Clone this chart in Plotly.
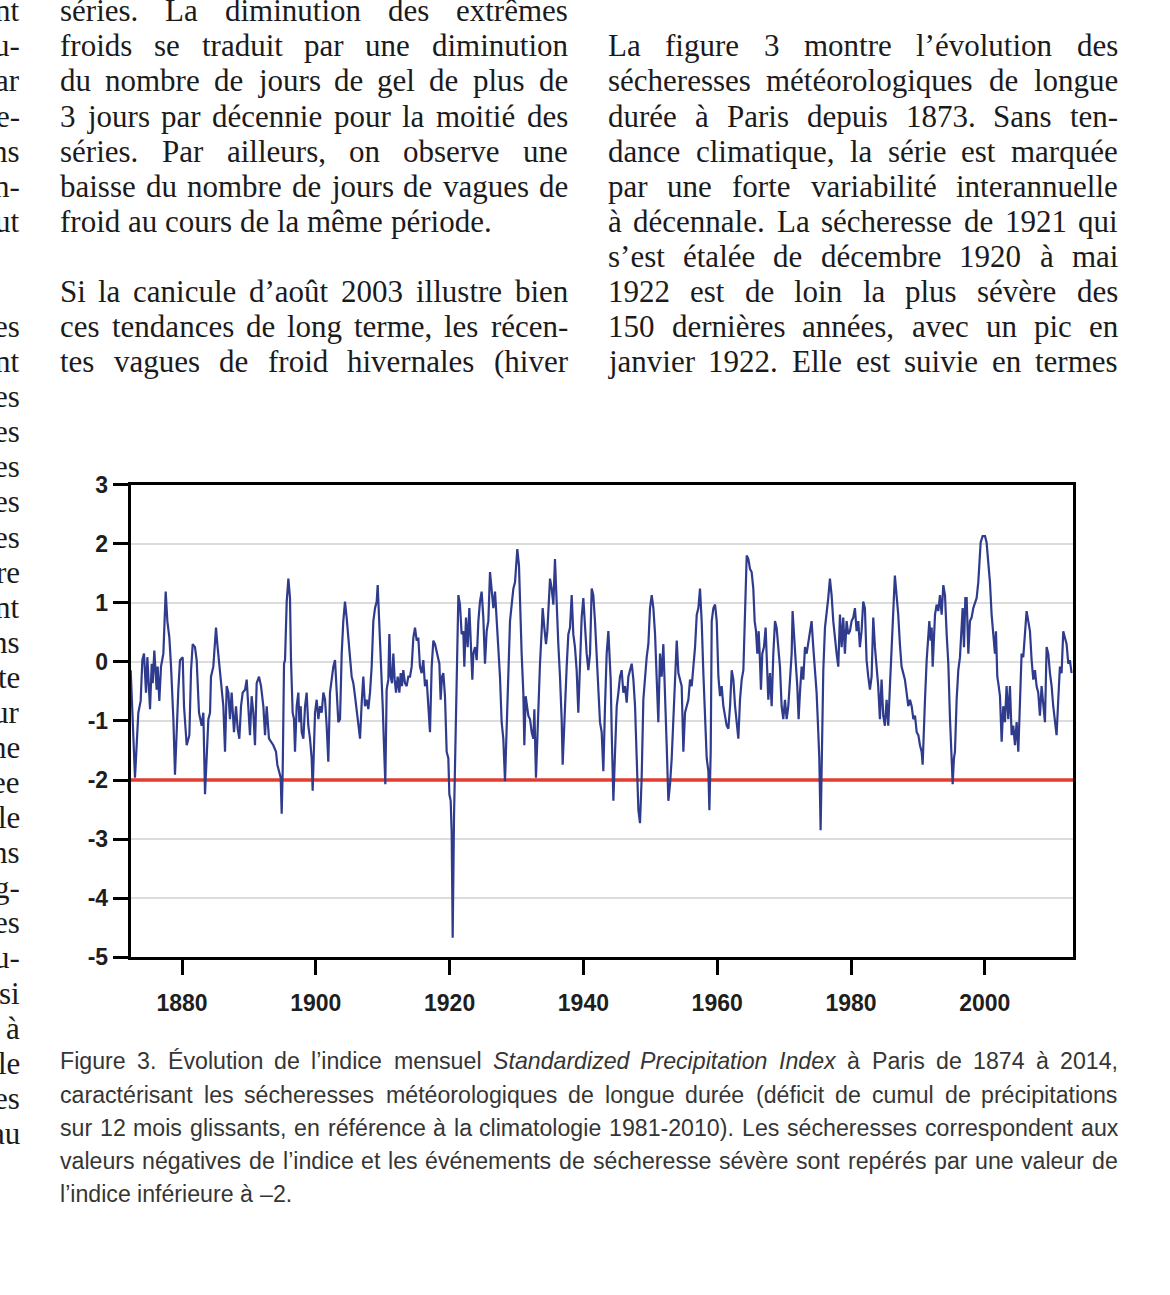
import re
import unicodedata
import plotly.graph_objects as go

# ---------------- data ----------------
YEARS = [
    1872.33, 1872.97, 1873.47, 1873.82, 1874.07, 1874.32, 1874.62, 1874.82, 1875.22, 1875.47,
    1875.62, 1875.86, 1876.21, 1876.36, 1876.61, 1876.86, 1877.21, 1877.56, 1877.81, 1878.11,
    1878.36, 1878.71, 1878.95, 1879.20, 1879.45, 1879.70, 1880.10, 1880.30, 1880.70, 1881.10,
    1881.35, 1881.60, 1881.94, 1882.19, 1882.54, 1882.94, 1883.19, 1883.44, 1883.69, 1883.94,
    1884.19, 1884.33, 1884.68, 1885.08, 1885.28, 1885.58, 1885.93, 1886.18, 1886.43, 1886.68,
    1886.93, 1887.17, 1887.42, 1887.77, 1888.07, 1888.32, 1888.57, 1888.82, 1889.07, 1889.42,
    1889.67, 1889.91, 1890.16, 1890.41, 1890.66, 1890.91, 1891.16, 1891.51, 1891.81, 1892.16,
    1892.41, 1892.66, 1893.00, 1893.65, 1894.05, 1894.25, 1894.55, 1894.75, 1894.90, 1895.05,
    1895.25, 1895.40, 1895.65, 1895.90, 1896.14, 1896.29, 1896.54, 1896.74, 1896.89, 1897.14,
    1897.39, 1897.54, 1897.74, 1897.89, 1898.14, 1898.39, 1898.63, 1898.88, 1899.13, 1899.38,
    1899.53, 1899.73, 1899.88, 1900.13, 1900.38, 1900.63, 1900.88, 1901.13, 1901.38, 1901.62,
    1901.87, 1902.12, 1902.37, 1902.62, 1902.87, 1903.12, 1903.37, 1903.62, 1903.87, 1904.11,
    1904.36, 1904.61, 1904.86, 1905.11, 1905.36, 1905.61, 1905.86, 1906.11, 1906.36, 1906.61,
    1906.86, 1907.10, 1907.35, 1907.60, 1907.85, 1908.10, 1908.35, 1908.60, 1908.85, 1909.10,
    1909.25, 1909.50, 1909.75, 1910.00, 1910.19, 1910.39, 1910.59, 1910.84, 1910.99, 1911.19,
    1911.39, 1911.59, 1911.79, 1911.99, 1912.24, 1912.49, 1912.69, 1912.88, 1913.08, 1913.33,
    1913.58, 1913.83, 1914.08, 1914.33, 1914.58, 1914.83, 1915.08, 1915.32, 1915.57, 1915.82,
    1916.07, 1916.32, 1916.57, 1916.82, 1917.07, 1917.32, 1917.57, 1917.82, 1918.17, 1918.47,
    1918.66, 1918.86, 1919.06, 1919.31, 1919.56, 1919.81, 1919.96, 1920.16, 1920.31, 1920.46,
    1920.66, 1920.86, 1921.06, 1921.31, 1921.55, 1921.80, 1922.05, 1922.20, 1922.45, 1922.70,
    1922.95, 1923.15, 1923.40, 1923.55, 1923.80, 1924.05, 1924.30, 1924.54, 1924.79, 1925.04,
    1925.29, 1925.54, 1925.79, 1926.04, 1926.29, 1926.54, 1926.79, 1927.04, 1927.28, 1927.53,
    1927.78, 1928.03, 1928.28, 1928.53, 1928.78, 1929.03, 1929.28, 1929.53, 1929.78, 1929.93,
    1930.12, 1930.37, 1930.52, 1930.77, 1931.02, 1931.17, 1931.37, 1931.52, 1931.77, 1932.02,
    1932.27, 1932.52, 1932.67, 1932.91, 1933.11, 1933.31, 1933.51, 1933.76, 1933.91, 1934.16,
    1934.41, 1934.61, 1934.81, 1935.01, 1935.26, 1935.51, 1935.75, 1936.00, 1936.25, 1936.50,
    1936.75, 1936.90, 1937.10, 1937.30, 1937.50, 1937.75, 1938.00, 1938.25, 1938.49, 1938.74,
    1938.99, 1939.24, 1939.49, 1939.74, 1939.99, 1940.24, 1940.49, 1940.74, 1940.99, 1941.24,
    1941.48, 1941.73, 1941.99, 1942.24, 1942.48, 1942.73, 1942.98, 1943.23, 1943.48, 1943.73,
    1943.88, 1944.08, 1944.23, 1944.38, 1944.48, 1944.73, 1944.98, 1945.23, 1945.47, 1945.72,
    1945.97, 1946.22, 1946.47, 1946.72, 1946.97, 1947.22, 1947.47, 1947.72, 1947.97, 1948.22,
    1948.46, 1948.71, 1948.96, 1949.21, 1949.46, 1949.71, 1949.96, 1950.21, 1950.46, 1950.71,
    1950.96, 1951.20, 1951.45, 1951.70, 1951.95, 1952.20, 1952.45, 1952.70, 1952.95, 1953.20,
    1953.45, 1953.70, 1953.95, 1954.20, 1954.44, 1954.69, 1954.94, 1955.19, 1955.44, 1955.69,
    1955.94, 1956.19, 1956.44, 1956.69, 1956.94, 1957.19, 1957.43, 1957.68, 1957.93, 1958.18,
    1958.43, 1958.68, 1958.83, 1959.03, 1959.18, 1959.43, 1959.68, 1959.93, 1960.18, 1960.42,
    1960.67, 1960.92, 1961.17, 1961.42, 1961.67, 1961.92, 1962.17, 1962.42, 1962.67, 1962.92,
    1963.16, 1963.41, 1963.66, 1963.91, 1964.16, 1964.41, 1964.66, 1964.91, 1965.15, 1965.40,
    1965.60, 1965.80, 1966.00, 1966.20, 1966.39, 1966.54, 1966.74, 1966.99, 1967.24, 1967.39,
    1967.64, 1967.89, 1968.14, 1968.39, 1968.64, 1968.88, 1969.13, 1969.38, 1969.63, 1969.88,
    1970.13, 1970.38, 1970.63, 1970.88, 1971.13, 1971.27, 1971.47, 1971.72, 1971.97, 1972.17,
    1972.37, 1972.62, 1972.87, 1973.12, 1973.37, 1973.62, 1973.86, 1974.11, 1974.36, 1974.61,
    1974.86, 1975.11, 1975.26, 1975.46, 1975.66, 1975.86, 1976.11, 1976.35, 1976.60, 1976.85,
    1977.10, 1977.35, 1977.60, 1977.85, 1978.10, 1978.35, 1978.60, 1978.84, 1979.09, 1979.34,
    1979.59, 1979.84, 1980.09, 1980.34, 1980.59, 1980.84, 1981.09, 1981.33, 1981.58, 1981.83,
    1982.08, 1982.33, 1982.58, 1982.83, 1983.08, 1983.33, 1983.58, 1983.82, 1984.07, 1984.32,
    1984.57, 1984.82, 1985.07, 1985.32, 1985.57, 1985.82, 1986.07, 1986.31, 1986.56, 1986.81,
    1987.06, 1987.31, 1987.56, 1987.81, 1988.06, 1988.31, 1988.56, 1988.82, 1989.07, 1989.32,
    1989.57, 1989.82, 1990.07, 1990.31, 1990.56, 1990.71, 1990.91, 1991.06, 1991.31, 1991.56,
    1991.71, 1991.91, 1992.06, 1992.21, 1992.41, 1992.56, 1992.80, 1993.05, 1993.30, 1993.55,
    1993.80, 1994.05, 1994.30, 1994.55, 1994.80, 1995.05, 1995.20, 1995.39, 1995.54, 1995.79,
    1996.04, 1996.29, 1996.54, 1996.69, 1996.89, 1997.09, 1997.29, 1997.54, 1997.78, 1998.03,
    1998.28, 1998.53, 1998.78, 1999.03, 1999.18, 1999.38, 1999.68, 2000.03, 2000.27, 2000.52,
    2000.77, 2001.02, 2001.27, 2001.52, 2001.67, 2001.87, 2002.02, 2002.27, 2002.52, 2002.76,
    2003.01, 2003.26, 2003.51, 2003.76, 2004.01, 2004.26, 2004.51, 2004.76, 2005.01, 2005.25,
    2005.50, 2005.75, 2006.00, 2006.25, 2006.50, 2006.75, 2007.00, 2007.25, 2007.50, 2007.74,
    2007.99, 2008.24, 2008.49, 2008.74, 2008.99, 2009.24, 2009.49, 2009.74, 2009.99, 2010.23,
    2010.48, 2010.73, 2010.98, 2011.23, 2011.48, 2011.73, 2011.98, 2012.23, 2012.48, 2012.72,
    2012.97,
]

SPI = [
    -0.14, -1.96, -0.86, -0.66, 0.03, 0.14, -0.52, 0.08, -0.80, -0.03,
    -0.36, 0.19, -0.47, -0.08, -0.66, -0.08, 0.14, 1.19, 0.69, 0.41,
    -0.08, -0.97, -1.91, -1.08, -0.47, 0.03, 0.08, -0.75, -1.41, -1.24,
    -0.14, 0.30, 0.25, 0.03, -0.86, -1.08, -0.86, -2.24, -1.46, -0.97,
    -0.86, -0.25, -0.08, 0.58, 0.30, -0.08, -0.41, -0.75, -1.52, -0.41,
    -0.52, -0.97, -0.52, -1.19, -0.75, -1.13, -1.30, -0.75, -0.52, -0.47,
    -0.30, -0.75, -1.24, -0.58, -0.86, -1.41, -0.36, -0.25, -0.41, -0.75,
    -1.24, -0.75, -1.30, -1.41, -1.52, -1.74, -1.85, -1.96, -2.57, -1.85,
    -0.03, 0.03, 1.02, 1.41, 1.08, 0.03, -0.86, -0.97, -1.52, -0.75,
    -0.52, -1.02, -0.75, -1.19, -1.30, -0.75, -0.52, -1.08, -1.30, -1.63,
    -2.18, -1.24, -0.86, -0.64, -0.97, -0.75, -0.86, -0.52, -0.64, -1.08,
    -1.69, -0.52, -0.30, -0.08, 0.03, -0.41, -1.02, -0.97, 0.14, 0.69,
    1.02, 0.75, 0.47, 0.08, -0.25, -0.36, -0.58, -0.80, -1.08, -1.30,
    -0.69, -0.25, -0.75, -0.64, -0.80, -0.52, -0.08, 0.69, 0.91, 1.02,
    1.30, 0.69, 0.03, -0.75, -1.41, -2.07, -0.47, -0.30, 0.47, -0.25,
    -0.36, 0.14, -0.30, -0.52, -0.25, -0.52, -0.19, -0.41, -0.14, -0.36,
    -0.41, -0.25, -0.25, -0.08, 0.41, 0.58, 0.36, 0.41, -0.08, -0.19,
    0.03, -0.41, -0.30, -0.75, -1.19, -0.08, 0.36, 0.30, 0.14, -0.03,
    -0.64, -0.25, -0.19, -0.58, -1.52, -1.63, -2.24, -2.35, -2.90, -4.67,
    -2.62, -1.52, -0.14, 1.13, 0.97, 0.47, 0.52, -0.08, 0.75, 0.25,
    0.91, 0.25, -0.30, 0.14, 0.25, 0.03, 0.69, 1.02, 1.19, 0.75,
    -0.03, 0.52, 0.69, 1.52, 1.13, 0.91, 1.19, 0.75, 0.25, -0.25,
    -1.02, -1.30, -2.02, -1.19, -0.08, 0.69, 0.97, 1.24, 1.35, 1.63,
    1.91, 1.63, 1.02, 0.14, -0.52, -1.41, -0.58, -0.75, -0.91, -0.97,
    -1.19, -1.30, -0.80, -1.96, -1.19, -0.80, -0.03, 0.52, 0.91, 0.58,
    0.30, 0.52, 1.13, 1.41, 1.24, 0.97, 1.74, 0.91, 0.30, -0.25,
    -0.97, -1.74, -1.08, -0.64, -0.08, 0.47, 0.58, 1.13, 0.47, 0.25,
    -0.14, -0.86, -0.08, 0.75, 1.08, 0.52, 0.14, -0.14, 0.14, 1.24,
    1.13, 0.69, 0.03, -0.64, -1.02, -1.19, -1.85, -0.75, 0.14, 0.52,
    0.25, -0.30, -1.19, -1.85, -2.35, -1.52, -0.75, -0.52, -0.25, -0.14,
    -0.52, -0.41, -0.69, -0.25, -0.14, -0.03, -0.30, -0.75, -1.63, -2.51,
    -2.73, -1.96, -0.64, -0.19, 0.08, 0.30, 0.91, 1.13, 0.91, 0.47,
    -0.36, -1.02, 0.14, -0.25, 0.30, -0.75, -1.41, -2.35, -2.07, -1.63,
    -0.97, -0.52, 0.36, -0.19, -0.30, -0.41, -1.52, -0.86, -0.75, -0.64,
    -0.30, -0.41, -0.08, 0.25, 0.80, 0.91, 1.24, 0.69, -0.19, -0.97,
    -1.63, -1.85, -2.51, -1.52, 0.69, 0.91, 0.97, 0.69, -0.25, -0.58,
    -0.41, -0.75, -0.91, -1.08, -1.13, -0.75, -0.14, -0.30, -0.75, -1.08,
    -1.30, -0.64, -0.30, -0.14, 0.97, 1.80, 1.74, 1.57, 1.52, 1.24,
    0.69, 0.52, 0.14, 0.52, 0.03, -0.47, 0.14, 0.25, 0.58, 0.03,
    -0.64, -0.19, -0.75, 0.14, 0.69, 0.58, 0.25, -0.08, -0.75, -0.97,
    -0.64, -0.97, -0.75, -0.36, 0.14, 0.86, 0.41, 0.03, -0.41, -0.97,
    -0.52, -0.08, -0.30, 0.25, 0.14, 0.36, 0.52, 0.69, 0.25, -0.19,
    -0.52, -1.19, -1.63, -2.85, -1.52, -0.14, 0.58, 0.80, 1.08, 1.41,
    1.13, 0.69, 0.36, 0.14, -0.08, 0.80, 0.25, 0.75, 0.14, 0.69,
    0.47, 0.52, 0.69, 0.75, 0.91, 0.52, 0.69, 0.25, 0.52, 1.02,
    0.91, 0.03, -0.25, -0.47, -0.25, 0.75, 0.25, -0.03, -0.41, -0.97,
    -0.30, -0.91, -1.08, -0.64, -1.08, -0.41, 0.25, 0.64, 1.46, 1.13,
    0.80, 0.30, -0.08, -0.19, -0.30, -0.52, -0.75, -0.64, -0.75, -0.97,
    -0.91, -1.19, -1.24, -1.41, -1.52, -1.74, -0.97, -0.64, 0.03, 0.41,
    0.69, 0.36, 0.58, -0.08, 0.36, 0.80, 0.97, 0.86, 1.13, 0.80,
    1.30, 1.13, 0.47, -0.03, -0.97, -1.63, -2.07, -1.63, -1.52, -0.64,
    -0.14, 0.08, 0.69, 0.91, 0.25, 1.08, 1.08, 0.14, 0.69, 0.75,
    0.91, 1.02, 1.08, 1.35, 1.69, 2.02, 2.13, 2.13, 2.02, 1.69,
    1.35, 0.80, 0.47, 0.14, 0.52, -0.25, -0.36, -0.58, -1.35, -0.75,
    -1.02, -0.41, -0.97, -0.41, -1.24, -1.08, -1.41, -1.02, -1.52, -0.64,
    0.14, 0.08, 0.52, 0.86, 0.69, 0.52, 0.03, -0.30, -0.14, -0.41,
    -0.52, -0.91, -0.41, -0.75, -1.02, 0.25, 0.14, -0.19, -0.41, -0.75,
    -1.02, -1.24, -0.64, -0.08, -0.19, 0.52, 0.41, 0.30, -0.03, 0.03,
    -0.19,
]
assert len(YEARS) == len(SPI)

THRESHOLD = -2
X_RANGE = [1872.33, 2013.23]
Y_RANGE = [-5, 3]
X_TICKS = [1880, 1900, 1920, 1940, 1960, 1980, 2000]
Y_TICKS = [-5, -4, -3, -2, -1, 0, 1, 2, 3]
Y_TICK_TEXT = ["-5", "-4", "-3", "-2", "-1", "0", "1", "2", "3"]

# ---------------- text content ----------------
MID_LINES = [
    "séries. La diminution des extrêmes",
    "froids se traduit par une diminution",
    "du nombre de jours de gel de plus de",
    "3 jours par décennie pour la moitié des",
    "séries. Par ailleurs, on observe une",
    "baisse du nombre de jours de vagues de",
    "froid au cours de la même période.",
    "",
    "Si la canicule d’août 2003 illustre bien",
    "ces tendances de long terme, les récen-",
    "tes vagues de froid hivernales (hiver",
]
RIGHT_LINES = [
    "La figure 3 montre l’évolution des",
    "sécheresses météorologiques de longue",
    "durée à Paris depuis 1873. Sans ten-",
    "dance climatique, la série est marquée",
    "par une forte variabilité interannuelle",
    "à décennale. La sécheresse de 1921 qui",
    "s’est étalée de décembre 1920 à mai",
    "1922 est de loin la plus sévère des",
    "150 dernières années, avec un pic en",
    "janvier 1922. Elle est suivie en termes",
]
LEFT_FRAGMENTS = [
    "nt", "u-", "ar", "e-", "ns", "n-", "ut", "", "", "es", "nt", "es", "es", "es",
    "es", "es", "re", "nt", "ns", "te", "ur", "ne", "ee", "le", "ns", "g-", "es",
    "u-", "si", "à", "le", "es", "au",
]
CAPTION_LINES = [
    "Figure 3. Évolution de l’indice mensuel <i>Standardized</i> <i>Precipitation</i> <i>Index</i> à Paris de 1874 à 2014,",
    "caractérisant les sécheresses météorologiques de longue durée (déficit de cumul de précipitations",
    "sur 12 mois glissants, en référence à la climatologie 1981-2010). Les sécheresses correspondent aux",
    "valeurs négatives de l’indice et les événements de sécheresse sévère sont repérés par une valeur de",
    "l’indice inférieure à –2.",
]

# ---------------- layout helpers ----------------
W, H = 1170, 1295

TIMES = dict(zip("abcdefghijklmnopqrstuvwxyz",
                 [444, 500, 444, 500, 444, 333, 500, 500, 278, 278, 500, 278, 778,
                  500, 500, 500, 500, 333, 389, 278, 500, 500, 722, 500, 500, 444]))
TIMES.update(zip("ABCDEFGHIJKLMNOPQRSTUVWXYZ",
                 [722, 667, 667, 722, 611, 556, 722, 722, 333, 389, 722, 611, 889,
                  722, 722, 556, 722, 667, 556, 611, 722, 722, 944, 722, 722, 611]))
TIMES.update({d: 500 for d in "0123456789"})
TIMES.update({" ": 250, ".": 250, ",": 250, "-": 333, "(": 333, ")": 333,
              "’": 333, "'": 180, "–": 500, ":": 278})

ARIAL = dict(zip("abcdefghijklmnopqrstuvwxyz",
                 [556, 556, 500, 556, 556, 278, 556, 556, 222, 222, 500, 222, 833,
                  556, 556, 556, 556, 333, 500, 278, 556, 500, 722, 500, 500, 500]))
ARIAL.update(zip("ABCDEFGHIJKLMNOPQRSTUVWXYZ",
                 [667, 667, 722, 722, 667, 611, 778, 722, 278, 500, 667, 556, 833,
                  722, 778, 667, 778, 722, 667, 611, 722, 667, 944, 667, 667, 611]))
ARIAL.update({d: 556 for d in "0123456789"})
ARIAL.update({" ": 278, ".": 278, ",": 278, "-": 333, "(": 333, ")": 333,
              "’": 222, "'": 191, "–": 556, ":": 278})


def glyph_w(ch, table):
    if ch in table:
        return table[ch]
    base = unicodedata.normalize("NFD", ch)[0]
    return table.get(base, 500)


def strip_tags(s):
    return re.sub(r"<[^>]+>", "", s)


def units(text, table):
    return sum(glyph_w(c, table) for c in strip_tags(text))


annotations = []


def put_line(text, x0, x1, baseline, size, family, table, color, justify, asc):
    if not text:
        return
    words = text.split(" ")
    widths = [units(w, table) * size / 1000.0 for w in words]
    space = table[" "] * size / 1000.0
    if justify and len(words) > 1:
        gap = max((x1 - x0 - sum(widths)) / (len(words) - 1), space * 0.7)
    else:
        gap = space
    yc = baseline - asc * size
    x = x0
    for w, wd in zip(words, widths):
        annotations.append(dict(
            x=x / W, y=1 - yc / H, xref="paper", yref="paper", text=w,
            showarrow=False, xanchor="left", yanchor="middle",
            borderpad=0, borderwidth=0,
            font=dict(family=family, size=size, color=color)))
        x += wd + gap


SERIF = "Liberation Serif, Times New Roman, serif"
SANS = "Liberation Sans, Arial, sans-serif"
BODY_SIZE = 31
LEAD = 35.8
TOP_BASE = 8.2
BODY_COLOR = "#1b1b1b"

for i, line in enumerate(MID_LINES):
    nxt = MID_LINES[i + 1] if i + 1 < len(MID_LINES) else "x"
    put_line(line, 60, 568, TOP_BASE + i * LEAD, BODY_SIZE, SERIF, TIMES,
             BODY_COLOR, justify=bool(nxt), asc=0.3375)

for i, line in enumerate(RIGHT_LINES):
    put_line(line, 608, 1118, TOP_BASE + (i + 1) * LEAD, BODY_SIZE, SERIF, TIMES,
             BODY_COLOR, justify=True, asc=0.3375)

for i, frag in enumerate(LEFT_FRAGMENTS):
    if frag:
        yc = TOP_BASE + i * LEAD - 0.3375 * BODY_SIZE
        annotations.append(dict(
            x=20 / W, y=1 - yc / H, xref="paper", yref="paper", text=frag,
            showarrow=False, xanchor="right", yanchor="middle",
            borderpad=0, borderwidth=0,
            font=dict(family=SERIF, size=BODY_SIZE, color=BODY_COLOR)))

# caption: regular sans, size chosen so that every justified line fits its column
CAP_X0, CAP_X1 = 60, 1118
fit = min((CAP_X1 - CAP_X0) * 1000.0 / units(l, ARIAL) for l in CAPTION_LINES[:-1])
CAP_SIZE = min(25.0, fit * 0.985)
CAP_BASE = 1078
CAP_LEAD = 33.8
for i, line in enumerate(CAPTION_LINES):
    put_line(line, CAP_X0, CAP_X1, CAP_BASE + i * CAP_LEAD, CAP_SIZE, SANS, ARIAL,
             "#353535", justify=(i < len(CAPTION_LINES) - 1), asc=0.3465)

# ---------------- figure ----------------
fig = go.Figure()
fig.add_trace(go.Scatter(
    x=X_RANGE, y=[THRESHOLD, THRESHOLD], mode="lines",
    line=dict(color="#e23d2f", width=3.5),
    hoverinfo="skip", showlegend=False))
fig.add_trace(go.Scatter(
    x=YEARS, y=SPI, mode="lines",
    line=dict(color="#2f3b8c", width=2.2),
    hoverinfo="skip", showlegend=False))

TICK_FONT = dict(family=SANS, size=23, color="#1e1e1e", weight="bold")

fig.update_layout(
    width=W, height=H, autosize=False,
    margin=dict(l=0, r=0, t=0, b=0),
    paper_bgcolor="white", plot_bgcolor="white",
    showlegend=False,
    annotations=annotations,
    xaxis=dict(
        domain=[130.7 / W, 1073.3 / W], range=X_RANGE,
        tickmode="array", tickvals=X_TICKS, ticktext=[str(v) for v in X_TICKS],
        ticks="outside", ticklen=15, tickwidth=3, tickcolor="black",
        showline=True, linewidth=3, linecolor="black", mirror=True,
        showgrid=False, zeroline=False, tickfont=TICK_FONT,
        ticklabelstandoff=8,
    ),
    yaxis=dict(
        domain=[1 - 963.7 / H, 1 - 481.3 / H], range=Y_RANGE,
        tickmode="array", tickvals=Y_TICKS, ticktext=Y_TICK_TEXT,
        ticks="outside", ticklen=15, tickwidth=3, tickcolor="black",
        showline=True, linewidth=3, linecolor="black", mirror=True,
        showgrid=True, gridcolor="#dcdcdc", gridwidth=1.5, zeroline=False,
        tickfont=TICK_FONT, ticklabelstandoff=0,
    ),
)

fig.write_html("out.html",
               config={"displayModeBar": False},
               post_script="document.body.style.margin='0';document.body.style.overflow='hidden';")
